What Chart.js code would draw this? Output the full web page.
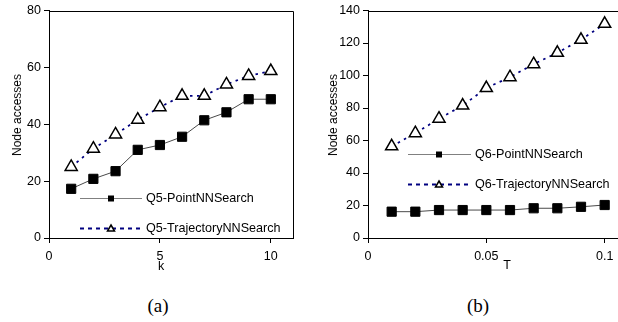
<!DOCTYPE html>
<html>
<head>
<meta charset="utf-8">
<script src="https://cdn.jsdelivr.net/npm/chart.js@4/dist/chart.umd.min.js"></script>
<style>
  html, body { margin: 0; padding: 0; background: #fff; }
  #wrap { position: relative; width: 618px; height: 322px; overflow: hidden; background: #fff; }
  canvas { position: absolute; top: 0; }
  .lbl { position: absolute; transform: translate(-50%, -50%); white-space: nowrap; color: #000;
         font-family: "Liberation Sans", Arial, sans-serif; line-height: 1; }
  .rot { transform: translate(-50%, -50%) rotate(-90deg); }
  .cap { font-family: "Liberation Serif", "Times New Roman", serif; font-size: 19px; }
</style>
</head>
<body>
<div id="wrap">
  <canvas id="ca" width="310" height="270" style="left:0px"></canvas>
  <canvas id="cb" width="360" height="270" style="left:310px"></canvas>
  <div class="lbl rot" style="left:17px; top:115px; font-size:12px;">Node accesses</div>
  <div class="lbl rot" style="left:333px; top:115px; font-size:12px;">Node accesses</div>
  <div class="lbl" style="left:161px; top:266px; font-size:12.5px;">k</div>
  <div class="lbl" style="left:507px; top:265px; font-size:12.5px;">T</div>
  <div class="lbl cap" style="left:158px; top:305px;">(a)</div>
  <div class="lbl cap" style="left:478px; top:305px;">(b)</div>
</div>
<script>
// ---------- data ----------
const kValues = [1, 2, 3, 4, 5, 6, 7, 8, 9, 10];
const q5Point = [17.3, 20.8, 23.5, 31, 32.7, 35.6, 41.4, 44.2, 48.8, 48.8];
const q5Trajectory = [25, 31.4, 36.4, 41.6, 46, 50, 50, 54, 57, 58.7];

const tValues = [0.01, 0.02, 0.03, 0.04, 0.05, 0.06, 0.07, 0.08, 0.09, 0.1];
const q6Point = [16.2, 16.2, 17.2, 17.2, 17.2, 17.2, 18.3, 18.3, 19.2, 20.3];
const q6Trajectory = [56.4, 64.5, 73.4, 81.5, 92.3, 99, 107, 114, 122, 131.8];

const seriesNamesA = ["Q5-PointNNSearch", "Q5-TrajectoryNNSearch"];
const seriesNamesB = ["Q6-PointNNSearch", "Q6-TrajectoryNNSearch"];

const xTicksA = [0, 5, 10];
const yTicksA = [0, 20, 40, 60, 80];
const xTicksB = [0, 0.05, 0.1];
const yTicksB = [0, 20, 40, 60, 80, 100, 120, 140];

// ---------- helpers ----------
const FONT = "'Liberation Sans', Arial, sans-serif";
const toXY = (xs, ys) => xs.map((x, i) => ({ x: x, y: ys[i] }));

function pointDs(label, xs, ys) {
  return {
    label: label, data: toXY(xs, ys), showLine: true,
    borderColor: '#4a4a4a', borderWidth: 1,
    pointStyle: 'rect', pointRadius: 6.5, pointBackgroundColor: '#000',
    pointBorderColor: '#000', pointBorderWidth: 1, tension: 0
  };
}
function trajDs(label, xs, ys) {
  return {
    label: label, data: toXY(xs, ys), showLine: true,
    borderColor: '#000080', borderWidth: 1.75, borderDash: [2.5, 4.5],
    pointStyle: 'triangle', pointRadius: 7, pointBackgroundColor: '#fff',
    pointBorderColor: '#000', pointBorderWidth: 1.5, tension: 0
  };
}

const framePlugin = {
  id: 'frame',
  afterDatasetsDraw(chart) {
    const a = chart.chartArea, ctx = chart.ctx;
    ctx.save();
    ctx.strokeStyle = '#000';
    ctx.lineWidth = 1;
    ctx.beginPath();
    ctx.moveTo(Math.round(a.left) + 0.5, Math.round(a.top) + 0.5);
    ctx.lineTo(Math.round(a.right) + 0.5, Math.round(a.top) + 0.5);
    ctx.lineTo(Math.round(a.right) + 0.5, Math.round(a.bottom) + 0.5);
    ctx.stroke();
    ctx.restore();
  }
};

const insideLegend = {
  id: 'insideLegend',
  afterDraw(chart, args, opts) {
    const ctx = chart.ctx;
    ctx.save();
    chart.data.datasets.forEach((ds, i) => {
      const y = opts.y[i];
      ctx.strokeStyle = i === 0 ? '#808080' : '#000080';
      ctx.lineWidth = i === 0 ? 1 : 2;
      ctx.setLineDash(i === 0 ? [] : [4, 4]);
      ctx.beginPath();
      ctx.moveTo(opts.x0, y + 0.5);
      ctx.lineTo(opts.x1, y + 0.5);
      ctx.stroke();
      ctx.setLineDash([]);
      if (i === 0) {
        ctx.fillStyle = '#000';
        ctx.fillRect(opts.mx - 3, y - 2.5, 6, 6);
      } else {
        ctx.fillStyle = '#fff';
        ctx.strokeStyle = '#000';
        ctx.lineWidth = 1.5;
        ctx.beginPath();
        ctx.moveTo(opts.mx, y - 3);
        ctx.lineTo(opts.mx + 3.5, y + 3);
        ctx.lineTo(opts.mx - 3.5, y + 3);
        ctx.closePath();
        ctx.fill();
        ctx.stroke();
      }
      ctx.fillStyle = '#000';
      ctx.font = "12.6px " + FONT;
      ctx.textBaseline = 'middle';
      ctx.textAlign = 'left';
      ctx.fillText(ds.label, opts.tx, y + 1);
    });
    ctx.restore();
  }
};

function makeChart(id, datasets, xMin, xMax, xStep, xTickList, yMax, yStep, yTickList, yAxisWidth, xAxisHeight, padRight, legendOpts, fmt) {
  return new Chart(document.getElementById(id), {
    type: 'scatter',
    data: { datasets: datasets },
    plugins: [framePlugin, insideLegend],
    options: {
      responsive: false, animation: false, devicePixelRatio: 1,
      layout: { padding: { top: 8, right: padRight, left: 0, bottom: 0 } },
      plugins: { legend: { display: false }, tooltip: { enabled: false },
                 insideLegend: legendOpts },
      scales: {
        x: {
          type: 'linear', min: xMin, max: xMax,
          border: { display: true, color: '#000', width: 1 },
          grid: { display: true, drawOnChartArea: false, drawTicks: true, tickLength: 5, color: '#000' },
          ticks: { stepSize: xStep, includeBounds: false, color: '#000', padding: 6,
                   font: { family: FONT, size: 12.5 }, maxRotation: 0,
                   callback: fmt },
          afterBuildTicks: (s) => { s.ticks = xTickList.map(v => ({ value: v })); },
          afterFit: (s) => { s.height = xAxisHeight; }
        },
        y: {
          type: 'linear', min: 0, max: yMax,
          border: { display: true, color: '#000', width: 1 },
          grid: { display: true, drawOnChartArea: false, drawTicks: true, tickLength: 5, color: '#000' },
          ticks: { stepSize: yStep, color: '#000', padding: 3,
                   font: { family: FONT, size: 12.5 } },
          afterBuildTicks: (s) => { s.ticks = yTickList.map(v => ({ value: v })); },
          afterFit: (s) => { s.width = yAxisWidth; }
        }
      }
    }
  });
}

makeChart('ca',
  [pointDs(seriesNamesA[0], kValues, q5Point), trajDs(seriesNamesA[1], kValues, q5Trajectory)],
  0, 11, 5, xTicksA, 80, 20, yTicksA, 49, 32, 17,
  { x0: 80, x1: 142, mx: 111, tx: 146, y: [198, 228] },
  (v) => String(v));

makeChart('cb',
  [pointDs(seriesNamesB[0], tValues, q6Point), trajDs(seriesNamesB[1], tValues, q6Trajectory)],
  0, 0.12, 0.05, xTicksB, 140, 20, yTicksB, 58, 32, 18,
  { x0: 98, x1: 161, mx: 129, tx: 165, y: [154, 184] },
  (v) => String(Math.round(v * 100) / 100));
</script>
</body>
</html>
